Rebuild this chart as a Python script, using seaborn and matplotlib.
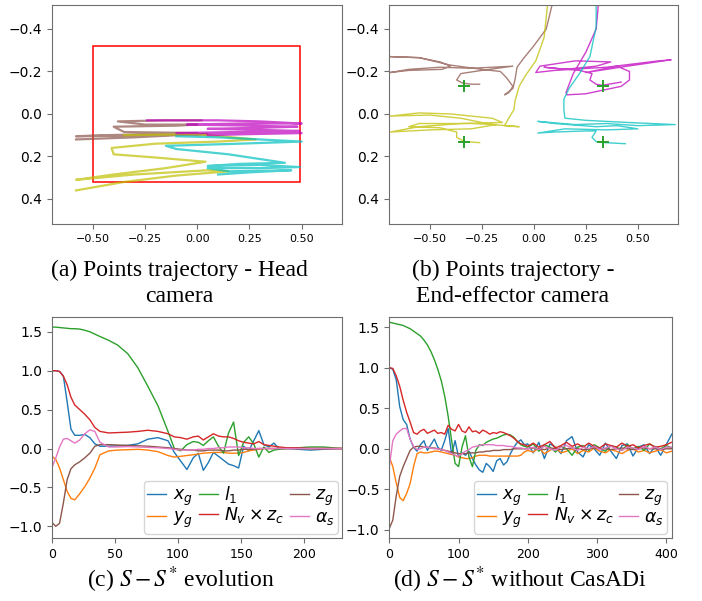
import numpy as np
import pandas as pd
import matplotlib
matplotlib.use('Agg')
import matplotlib.pyplot as plt
import matplotlib.patches as patches
import seaborn as sns

# ---------------- (a) point trajectories, head camera ----------------
head_brown_x = [-0.58, -0.30, -0.10, 0.05, -0.20, -0.58, -0.45, -0.20, 0.0, -0.35, -0.40, -0.10, 0.0, -0.25, -0.38, -0.15, 0.02]
head_brown_y = [0.12, 0.11, 0.10, 0.095, 0.10, 0.105, 0.10, 0.095, 0.09, 0.085, 0.06, 0.055, 0.05, 0.05, 0.035, 0.03, 0.03]
head_magenta_x = [-0.24, 0.10, 0.30, 0.50, 0.20, -0.05, 0.25, 0.48, 0.30, 0.05, 0.30, 0.49, 0.20, -0.10, 0.15, 0.40, 0.50, 0.25, 0.05]
head_magenta_y = [0.03, 0.03, 0.035, 0.045, 0.045, 0.05, 0.055, 0.06, 0.065, 0.07, 0.075, 0.08, 0.085, 0.09, 0.09, 0.085, 0.09, 0.095, 0.10]
head_yellow_x = [-0.35, 0.0, 0.28, 0.10, -0.20, -0.41, -0.40, -0.20, 0.04, -0.15, -0.40, -0.58, -0.30, 0.05, 0.15, -0.10, -0.35, -0.58]
head_yellow_y = [0.10, 0.095, 0.12, 0.13, 0.14, 0.16, 0.19, 0.205, 0.225, 0.255, 0.285, 0.31, 0.285, 0.265, 0.27, 0.29, 0.32, 0.36]
head_cyan_x = [-0.10, 0.10, 0.30, 0.50, 0.20, -0.15, -0.10, 0.15, 0.42, 0.20, 0.05, 0.30, 0.49, 0.30, 0.05, 0.15, 0.45, 0.25, 0.10]
head_cyan_y = [0.105, 0.11, 0.12, 0.13, 0.14, 0.15, 0.165, 0.19, 0.23, 0.235, 0.245, 0.24, 0.25, 0.255, 0.255, 0.27, 0.265, 0.275, 0.285]

# ---------------- (b) point trajectories, end-effector camera ----------------
ee_brown_x = [0.09, 0.06, 0.0, -0.05, -0.08, -0.09, -0.10, -0.14, -0.12, -0.10, -0.13, -0.16, -0.25, -0.40, -0.55, -0.69,
              -0.55, -0.45, -0.40, -0.44, -0.60, -0.69, -0.60, -0.45, -0.30, -0.10, -0.25, -0.35, -0.37, -0.34, -0.30, -0.26]
ee_brown_y = [-0.52, -0.40, -0.32, -0.26, -0.22, -0.16, -0.12, -0.09, -0.10, -0.13, -0.17, -0.20, -0.21, -0.23, -0.265, -0.27,
              -0.265, -0.245, -0.225, -0.21, -0.205, -0.195, -0.21, -0.22, -0.215, -0.225, -0.205, -0.19, -0.16, -0.145, -0.14, -0.14]
ee_yellow_x = [0.066, 0.05, 0.01, -0.04, -0.07, -0.09, -0.095, -0.12, -0.14, -0.07, -0.20, -0.35, -0.50, -0.69, -0.55, -0.40, -0.30,
               -0.20, -0.15, -0.35, -0.55, -0.69, -0.50, -0.30, -0.18, -0.30, -0.55, -0.60, -0.45, -0.37, -0.37, -0.33, -0.26]
ee_yellow_y = [-0.51, -0.36, -0.25, -0.18, -0.13, -0.06, -0.02, 0.02, 0.055, 0.06, 0.05, 0.02, 0.005, 0.01, -0.005, 0.0, 0.01,
               0.02, 0.04, 0.045, 0.06, 0.085, 0.075, 0.07, 0.05, 0.045, 0.045, 0.06, 0.065, 0.085, 0.11, 0.13, 0.135]
ee_magenta_x = [0.31, 0.30, 0.25, 0.19, 0.155, 0.16, 0.25, 0.42, 0.46, 0.46, 0.40, 0.25, 0.45, 0.66, 0.60,
                0.35, 0.10, 0.01, 0.03, 0.20, 0.37, 0.30, 0.15, 0.05, 0.22, 0.28, 0.27, 0.30, 0.33, 0.42]
ee_magenta_y = [-0.51, -0.40, -0.29, -0.19, -0.10, -0.09, -0.095, -0.13, -0.16, -0.20, -0.225, -0.195, -0.225, -0.255, -0.25,
                -0.22, -0.205, -0.195, -0.225, -0.25, -0.245, -0.225, -0.21, -0.22, -0.205, -0.19, -0.16, -0.14, -0.135, -0.15]
ee_cyan_x = [0.30, 0.30, 0.27, 0.22, 0.17, 0.145, 0.145, 0.15, 0.25, 0.45, 0.68, 0.50, 0.35, 0.20, 0.02,
             0.10, 0.30, 0.40, 0.50, 0.35, 0.15, 0.02, 0.10, 0.25, 0.30, 0.28, 0.30, 0.34, 0.44]
ee_cyan_y = [-0.51, -0.41, -0.27, -0.19, -0.12, -0.07, -0.02, 0.02, 0.03, 0.04, 0.05, 0.055, 0.045, 0.05, 0.035,
             0.045, 0.06, 0.055, 0.07, 0.075, 0.07, 0.09, 0.085, 0.08, 0.08, 0.11, 0.13, 0.135, 0.14]
target_x = [-0.335, 0.335, -0.335, 0.335]
target_y = [-0.133, -0.133, 0.133, 0.133]

# ---------------- (c) S - S* evolution ----------------
t_c = [0, 3, 6, 9, 12, 15, 18, 22, 26, 30, 34, 38, 45, 52, 60, 68, 76, 84, 92, 97, 102, 107, 112, 116,
       120, 124, 128, 132, 136, 140, 144, 148, 152, 156, 160, 164, 168, 172, 176, 180, 186, 195, 205, 215, 230]
xg_c = [1.0, 1.0, 0.99, 0.93, 0.60, 0.25, 0.17, 0.17, 0.18, 0.14, 0.06, 0.03, 0.03, 0.035, 0.04, 0.06, 0.12, 0.14, 0.10,
        -0.05, -0.16, -0.27, -0.12, -0.06, -0.28, -0.18, -0.05, -0.10, -0.15, -0.20, -0.22, -0.25, 0.03, -0.03, 0.10,
        0.23, 0.05, 0.02, 0.07, 0.0, 0.0, -0.01, -0.02, -0.01, 0.0]
yg_c = [-0.10, -0.14, -0.25, -0.40, -0.55, -0.64, -0.66, -0.58, -0.49, -0.38, -0.25, -0.08, -0.03, -0.02, -0.015, -0.01,
        -0.02, -0.04, -0.09, -0.11, -0.10, -0.09, -0.08, -0.07, -0.06, -0.055, -0.05, -0.05, -0.05, -0.06, -0.06, -0.06,
        -0.05, -0.03, -0.02, -0.01, 0.0, 0.0, 0.0, 0.0, 0.0, 0.0, 0.0, 0.0, 0.0]
l1_c = [1.56, 1.56, 1.555, 1.55, 1.545, 1.54, 1.54, 1.535, 1.52, 1.50, 1.47, 1.44, 1.39, 1.33, 1.22, 1.04, 0.80, 0.55,
        0.22, 0.0, -0.03, 0.05, 0.09, 0.08, 0.04, 0.10, 0.15, 0.03, -0.06, 0.20, 0.34, -0.09, 0.08, 0.15, 0.06, -0.11,
        0.02, -0.05, -0.02, -0.01, 0.0, 0.01, 0.02, 0.02, 0.0]
nvzc_c = [1.0, 1.0, 0.99, 0.93, 0.82, 0.66, 0.56, 0.50, 0.44, 0.37, 0.27, 0.22, 0.20, 0.205, 0.21, 0.22, 0.235, 0.22,
          0.19, 0.15, 0.14, 0.12, 0.15, 0.16, 0.11, 0.15, 0.19, 0.16, 0.15, 0.15, 0.13, 0.10, 0.08, 0.07, 0.06, 0.09,
          0.05, 0.04, 0.03, 0.02, 0.01, 0.01, 0.0, 0.0, 0.0]
zg_c = [-0.95, -1.0, -0.96, -0.70, -0.40, -0.26, -0.21, -0.17, -0.12, -0.06, 0.03, 0.05, 0.05, 0.045, 0.04, 0.035, 0.03,
        0.02, 0.01, 0.0, -0.01, -0.02, -0.02, -0.03, -0.03, -0.02, -0.02, -0.02, -0.03, -0.03, -0.02, -0.02, -0.01,
        -0.01, -0.01, 0.0, 0.0, 0.0, 0.0, 0.0, 0.0, 0.0, 0.0, 0.0, 0.0]
as_c = [-0.24, -0.12, 0.02, 0.12, 0.13, 0.10, 0.07, 0.11, 0.19, 0.24, 0.22, 0.08, 0.02, 0.02, 0.025, 0.02, 0.015, 0.01,
        0.0, -0.01, -0.02, -0.02, -0.02, -0.01, -0.01, 0.0, 0.0, 0.01, 0.01, 0.02, 0.02, 0.02, 0.01, 0.01, 0.0, 0.0,
        0.0, 0.0, 0.0, 0.0, 0.0, 0.0, 0.0, 0.0, 0.0]

# ---------------- (d) S - S* without CasADi ----------------
t_d = [0, 5, 10, 15, 20, 25, 30, 35, 40, 45, 50, 55, 60, 65, 70, 75, 80, 85, 90, 95, 100, 105, 110, 115, 120, 125,
       130, 135, 140, 145, 150, 155, 160, 165, 170, 175, 180, 185, 190, 195, 200, 208, 216, 224, 232, 240, 248, 256,
       264, 272, 280, 288, 296, 304, 312, 320, 328, 336, 344, 352, 360, 368, 376, 384, 392, 400, 408]
xg_d = [1.0, 0.98, 0.85, 0.52, 0.36, 0.30, 0.12, 0.02, -0.03, 0.05, 0.10, -0.02, 0.05, 0.12, 0.02, -0.02, 0.10, 0.25,
        -0.07, 0.10, -0.10, -0.05, -0.08, -0.03, -0.12, -0.20, -0.26, -0.29, -0.18, -0.22, -0.28, -0.15, -0.12, -0.20,
        -0.16, -0.06, 0.02, 0.08, 0.11, 0.05, 0.06,
        -0.05, 0.08, -0.12, 0.06, 0.02, -0.06, 0.10, 0.15, -0.04, -0.10, 0.05, 0.00, -0.08, 0.07, -0.03, -0.12, 0.04,
        0.06, -0.09, 0.02, 0.05, -0.06, 0.03, -0.08, 0.05, 0.18]
yg_d = [-0.10, -0.22, -0.42, -0.60, -0.64, -0.55, -0.43, -0.22, -0.06, -0.04, -0.05, -0.05, -0.04, -0.03, -0.03, -0.04,
        -0.05, -0.06, -0.07, -0.08, -0.10, -0.11, -0.12, -0.12, -0.11, -0.09, -0.08, -0.08, -0.08, -0.09, -0.09, -0.09,
        -0.09, -0.09, -0.09, -0.09, -0.09, -0.09, -0.08, -0.04, -0.02,
        -0.04, 0.01, -0.06, -0.02, 0.02, -0.05, -0.03, 0.00, -0.06, -0.02, -0.04, 0.01, -0.03, -0.05, -0.01, -0.03,
        -0.06, -0.02, 0.00, -0.04, -0.02, -0.05, -0.03, -0.01, -0.05, -0.03]
l1_d = [1.56, 1.55, 1.54, 1.53, 1.52, 1.50, 1.48, 1.45, 1.42, 1.39, 1.34, 1.28, 1.20, 1.10, 0.98, 0.84, 0.65, 0.40,
        0.10, -0.18, -0.22, 0.02, 0.16, -0.10, -0.22, -0.02, 0.05, 0.04, 0.08, 0.10, 0.12, 0.13, 0.15, 0.17, 0.18,
        0.17, 0.14, 0.09, 0.05, 0.03, 0.02,
        0.06, -0.03, 0.05, 0.02, -0.04, 0.03, 0.00, -0.08, 0.02, 0.04, -0.02, 0.05, 0.01, -0.03, 0.04, 0.02, -0.02,
        0.05, 0.00, 0.03, -0.02, 0.06, 0.02, 0.00, 0.04, 0.01]
nvzc_d = [1.0, 0.99, 0.90, 0.77, 0.60, 0.45, 0.33, 0.20, 0.18, 0.22, 0.24, 0.19, 0.21, 0.23, 0.19, 0.20, 0.18, 0.29,
          0.24, 0.22, 0.30, 0.22, 0.20, 0.27, 0.21, 0.22, 0.19, 0.23, 0.21, 0.18, 0.20, 0.19, 0.21, 0.20, 0.18, 0.16,
          0.13, 0.09, 0.06, 0.05, 0.03,
          0.07, 0.02, 0.05, 0.09, 0.01, 0.04, 0.08, 0.03, 0.06, 0.02, 0.07, 0.03, 0.01, 0.06, 0.04, 0.02, 0.07, 0.03,
          0.05, 0.01, 0.04, 0.06, 0.02, 0.03, 0.05, 0.08]
zg_d = [-0.98, -0.88, -0.58, -0.34, -0.22, -0.12, -0.02, 0.02, 0.03, 0.03, 0.02, 0.02, 0.01, 0.01, 0.0, -0.01, -0.02,
        -0.03, -0.04, -0.05, -0.06, -0.06, -0.06, -0.05, -0.05, -0.05, -0.04, -0.04, -0.03, -0.03, -0.02, -0.02, -0.02,
        -0.01, -0.01, -0.01, 0.0, 0.0, 0.0, 0.0, 0.0,
        0.01, 0.0, -0.01, 0.01, 0.0, -0.01, 0.0, 0.01, 0.0, -0.01, 0.0, 0.01, 0.0, 0.0, -0.01, 0.0, 0.01, 0.0, -0.01,
        0.0, 0.01, 0.0, 0.0, -0.01, 0.0, 0.0]
as_d = [-0.22, 0.10, 0.18, 0.22, 0.25, 0.25, 0.12, 0.03, -0.01, 0.0, 0.02, 0.02, 0.01, 0.0, 0.0, -0.01, -0.02, -0.04,
        -0.06, -0.08, -0.09, -0.06, -0.03, -0.01, 0.02, 0.03, 0.04, 0.05, 0.05, 0.05, 0.05, 0.04, 0.04, 0.04, 0.03,
        0.03, 0.02, 0.01, 0.01, 0.0, 0.0,
        0.02, -0.01, 0.03, 0.0, -0.02, 0.02, 0.04, 0.01, -0.02, 0.02, 0.0, 0.03, -0.01, 0.01, 0.03, 0.0, -0.02, 0.02,
        0.01, -0.01, 0.03, 0.0, 0.02, -0.01, 0.02, 0.02]

labels = [r'$x_g$', r'$y_g$', r'$l_1$', r'$N_v \times z_c$', r'$z_g$', r'$\alpha_s$']
line_colors = ['tab:blue', 'tab:orange', 'tab:green', 'tab:red', 'tab:brown', 'tab:pink']
traj_colors = ['tab:brown', 'y', 'm', 'c']

fig = plt.figure(figsize=(7.02, 6.01), dpi=100)
ax_a = fig.add_axes([0.0741, 0.6273, 0.4131, 0.3644])
ax_b = fig.add_axes([0.5541, 0.6273, 0.4117, 0.3644])
ax_c = fig.add_axes([0.0741, 0.1048, 0.4131, 0.3677])
ax_d = fig.add_axes([0.5546, 0.1048, 0.4023, 0.3685])

spine_col = '#6e6e6e'


def style(ax, xsize):
    for s in ax.spines.values():
        s.set_color(spine_col)
    ax.tick_params(colors=spine_col, labelcolor='black')
    ax.tick_params(axis='y', labelsize=10)
    ax.tick_params(axis='x', labelsize=xsize)
    ax.set_xlabel('')
    ax.set_ylabel('')


# trajectories
head = [(head_brown_x, head_brown_y), (head_yellow_x, head_yellow_y),
        (head_magenta_x, head_magenta_y), (head_cyan_x, head_cyan_y)]
ee = [(ee_brown_x, ee_brown_y), (ee_yellow_x, ee_yellow_y),
      (ee_magenta_x, ee_magenta_y), (ee_cyan_x, ee_cyan_y)]

for (xs, ys), col in zip(head, traj_colors):
    sns.lineplot(x=xs, y=ys, sort=False, estimator=None, color=col, alpha=0.7, linewidth=1.6, ax=ax_a)
ax_a.add_patch(patches.Rectangle((-0.5, -0.32), 0.99, 0.64, fill=False, edgecolor='red', linewidth=1.1))

for (xs, ys), col in zip(ee, traj_colors):
    sns.lineplot(x=xs, y=ys, sort=False, estimator=None, color=col, alpha=0.75, linewidth=1.0, ax=ax_b)
ax_b.plot(target_x, target_y, linestyle='none', marker='+', color='tab:green', markersize=8, markeredgewidth=1.4)

for ax in (ax_a, ax_b):
    ax.set_xlim(-0.695, 0.693)
    ax.set_ylim(0.518, -0.513)
    ax.set_xticks([-0.5, -0.25, 0.0, 0.25, 0.5])
    ax.set_yticks([-0.4, -0.2, 0.0, 0.2, 0.4])
    style(ax, 8)

# time series
for ax, t, series in [(ax_c, t_c, [xg_c, yg_c, l1_c, nvzc_c, zg_c, as_c]),
                      (ax_d, t_d, [xg_d, yg_d, l1_d, nvzc_d, zg_d, as_d])]:
    for vals, lab, col in zip(series, labels, line_colors):
        sns.lineplot(x=t, y=vals, color=col, label=lab, linewidth=1.0, errorbar=None, ax=ax)
    ax.legend(loc='lower right', ncol=3, fontsize=12.5, labelspacing=0.0, handlelength=1.1,
              handletextpad=0.35, columnspacing=0.35, borderpad=0.2, borderaxespad=0.25)
    ax.set_yticks([-1.0, -0.5, 0.0, 0.5, 1.0, 1.5])
    style(ax, 9)

ax_c.set_xlim(0, 230)
ax_c.set_ylim(-1.15, 1.69)
ax_c.set_xticks([0, 50, 100, 150, 200])
ax_d.set_xlim(0, 408)
ax_d.set_ylim(-1.1, 1.63)
ax_d.set_xticks([0, 100, 200, 300, 400])

# sub-figure captions
cap = dict(ha='center', va='center', fontsize=17, family='Liberation Serif', math_fontfamily='stix')
fig.text(179 / 702, 1 - 270 / 601, '(a) Points trajectory - Head', **cap)
fig.text(179 / 702, 1 - 297 / 601, 'camera', **cap)
fig.text(513 / 702, 1 - 270 / 601, '(b) Points trajectory -', **cap)
fig.text(513 / 702, 1 - 297 / 601, 'End-effector camera', **cap)
fig.text(181 / 702, 1 - 580 / 601, r'(c) $S-S^{*}$ evolution', **cap)
fig.text(520 / 702, 1 - 580 / 601, r'(d) $S-S^{*}$ without CasADi', **cap)

plt.savefig('out.png', dpi=100, facecolor='white')
